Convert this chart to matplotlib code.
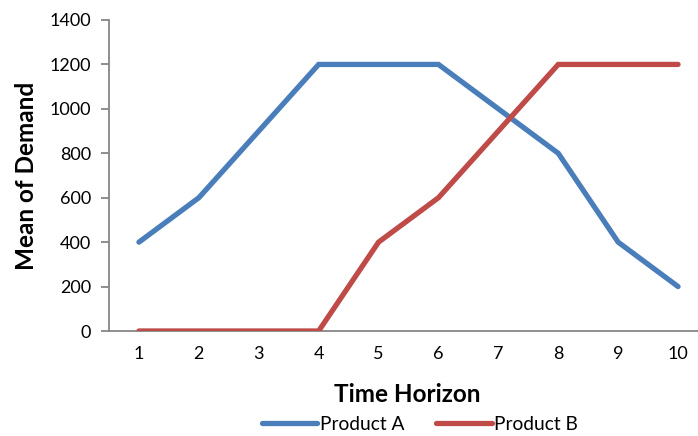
import matplotlib
matplotlib.use("Agg")
import matplotlib.pyplot as plt
from matplotlib.lines import Line2D

plt.rcParams['font.family'] = ['Lato', 'DejaVu Sans']

periods = [1, 2, 3, 4, 5, 6, 7, 8, 9, 10]
product_a = [400, 600, 900, 1200, 1200, 1200, 1000, 800, 400, 200]
product_b = [0, 0, 0, 0, 400, 600, 900, 1200, 1200, 1200]
y_ticks = [0, 200, 400, 600, 800, 1000, 1200, 1400]

W, H = 698, 436
fig = plt.figure(figsize=(W / 100, H / 100), dpi=100)
# plot area in pixel coordinates (extends past the right edge)
left, right, top, bottom = 109, 708, 20, 331
ax = fig.add_axes([left / W, 1 - bottom / H, (right - left) / W, (bottom - top) / H])

blue = '#4A7EBB'
red = '#BE4B48'
ax.plot(periods, product_a, color=blue, lw=3.8, solid_capstyle='round', solid_joinstyle='miter', zorder=3)
ax.plot(periods, product_b, color=red, lw=3.8, solid_capstyle='round', solid_joinstyle='miter', zorder=3)

ax.set_xlim(0.5, 10.5)
ax.set_ylim(0, 1400)
ax.set_yticks(y_ticks)
ax.set_xticks(periods)
ax.set_xticklabels([str(p) for p in periods])

axis_gray = '#868686'
for s in ['top', 'right']:
    ax.spines[s].set_visible(False)
for s in ['left', 'bottom']:
    ax.spines[s].set_color(axis_gray)
    ax.spines[s].set_linewidth(1.3)
ax.tick_params(axis='y', direction='out', length=6, width=1.3, color=axis_gray,
               labelsize=13, labelcolor='black', pad=7)
ax.tick_params(axis='x', length=0, labelsize=13, labelcolor='black', pad=11)

ax.set_ylabel('Mean of Demand', fontsize=17.5, fontweight='bold', labelpad=8)
fig.text(407 / W, 1 - 394 / H, 'Time Horizon', fontsize=17.5, fontweight='bold',
         ha='center', va='center')

handles = [Line2D([0], [0], color=blue, lw=3.8, solid_capstyle='round'),
           Line2D([0], [0], color=red, lw=3.8, solid_capstyle='round')]
fig.legend(handles, ['Product A', 'Product B'], loc='center',
           bbox_to_anchor=(420 / W, 1 - 424 / H), ncol=2, frameon=False,
           fontsize=13.8, handlelength=2.9, handletextpad=0.15, columnspacing=1.63,
           borderaxespad=0, borderpad=0)

fig.savefig('out.png', dpi=100)
